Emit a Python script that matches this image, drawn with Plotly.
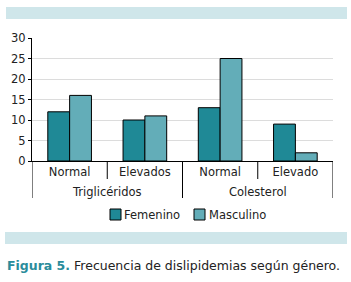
import plotly.graph_objects as go

categories = ["Normal", "Elevados", "Normal", "Elevado"]
groups = ["Triglicéridos", "Colesterol"]
femenino = [12, 10, 13, 9]
masculino = [16, 11, 25, 2]
series_names = ["Femenino", "Masculino"]
colors = ["#1f8996", "#63adb8"]
yticks = [0, 5, 10, 15, 20, 25, 30]

FONT = "DejaVu Sans"
W, H = 351, 282
L, R, T, B = 32, 18, 38, 121
pw = W - L - R
ph = H - T - B
FS = 11.5

def px_x(p):
    return (p - L) / pw

def px_y(p):
    return (H - B - p) / ph

xs = list(range(len(categories)))

fig = go.Figure()
for name, vals, col in zip(series_names, [femenino, masculino], colors):
    fig.add_trace(go.Bar(x=xs, y=vals, name=name, marker=dict(color=col, line=dict(color="black", width=1)),
                         showlegend=False, hoverinfo="skip"))

fig.update_layout(
    width=W, height=H, margin=dict(l=L, r=R, t=T, b=B),
    paper_bgcolor="white", plot_bgcolor="white",
    barmode="group", bargap=0.42, bargroupgap=0,
    font=dict(family=FONT, size=FS, color="#222"),
    xaxis=dict(range=[-0.5, len(categories) - 0.5], tickvals=xs, ticktext=categories,
               showline=True, linecolor="black", linewidth=1, ticks="", showgrid=False,
               tickfont=dict(size=FS, color="#222"), zeroline=False),
    yaxis=dict(range=[0, 30], tickvals=yticks, showline=True, linecolor="black", linewidth=1,
               ticks="outside", ticklen=3, tickcolor="black", gridcolor="#dcdcdc", gridwidth=1,
               tickfont=dict(size=FS, color="#222"), zeroline=False),
)

shapes = []
for xv in [0.5, 2.5]:
    shapes.append(dict(type="line", xref="x", yref="paper", x0=xv, x1=xv, y0=0, y1=px_y(179),
                       line=dict(color="black", width=1)))
for xv in [-0.5, 1.5, 3.5]:
    shapes.append(dict(type="line", xref="x", yref="paper", x0=xv, x1=xv, y0=0, y1=px_y(198),
                       line=dict(color="black", width=1)))
shapes.append(dict(type="rect", xref="paper", yref="paper", x0=px_x(6), x1=px_x(347), y0=px_y(19), y1=px_y(7),
                   fillcolor="#cfe6ea", line=dict(width=0), layer="below"))
shapes.append(dict(type="rect", xref="paper", yref="paper", x0=px_x(5), x1=px_x(347), y0=px_y(244), y1=px_y(232),
                   fillcolor="#cfe6ea", line=dict(width=0), layer="below"))
legend_box_x = [110, 194]
legend_text_x = [122, 207]
for bx, tx, name, col in zip(legend_box_x, legend_text_x, series_names, colors):
    shapes.append(dict(type="rect", xref="paper", yref="paper", x0=px_x(bx), x1=px_x(bx + 11),
                       y0=px_y(220), y1=px_y(209), fillcolor=col, line=dict(color="black", width=1)))

annotations = []
for gi, g in enumerate(groups):
    annotations.append(dict(text=g, xref="x", yref="paper", x=gi * 2 + 0.5, y=px_y(192), showarrow=False,
                            xanchor="center", yanchor="middle", font=dict(size=FS, color="#222")))
for tx, name in zip(legend_text_x, series_names):
    annotations.append(dict(text=name, xref="paper", yref="paper", x=px_x(tx), y=px_y(215), showarrow=False,
                            xanchor="left", yanchor="middle", font=dict(size=FS, color="#222")))
annotations.append(dict(text="<b><span style='color:#2a8c9b'>Figura 5.</span></b> Frecuencia de dislipidemias según género.",
                        xref="paper", yref="paper", x=px_x(5), y=px_y(265), showarrow=False,
                        xanchor="left", yanchor="middle", font=dict(size=12.5, color="#222")))

fig.update_layout(shapes=shapes, annotations=annotations)
fig.write_html("out.html", config={"displayModeBar": False, "staticPlot": True},
               post_script="document.body.style.margin='0';document.body.style.overflow='hidden';")
